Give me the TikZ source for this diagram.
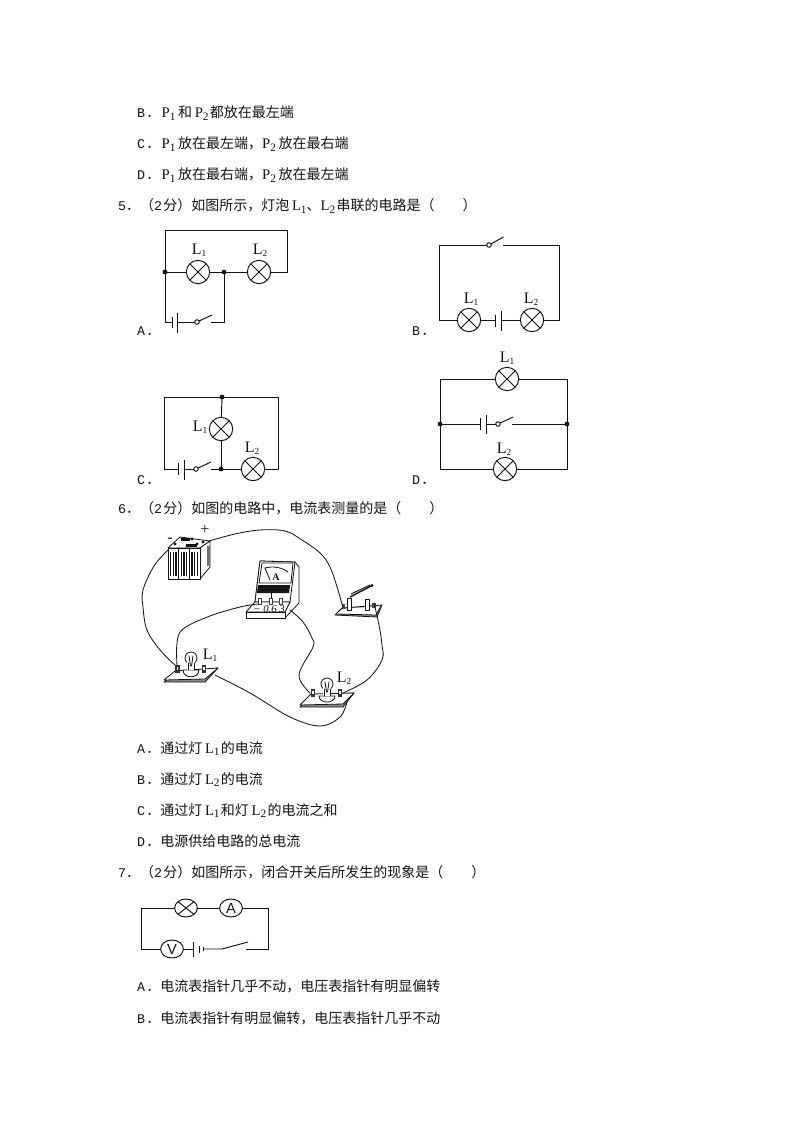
\documentclass[tikz,border=0pt]{standalone}
\usepackage{fontspec}
\setmainfont{Noto Sans CJK SC}
\newfontfamily\lat{Liberation Serif}
\newfontfamily\mon{Liberation Mono}
\newfontfamily\ssf{Liberation Sans}
\usetikzlibrary{shapes.geometric}
\newcommand{\Ms}[2]{{\lat\fontsize{11pt}{12pt}\selectfont #1\raisebox{-2pt}{\fontsize{8.5pt}{8pt}\selectfont #2}}}
\newcommand{\Ks}[2]{{\lat\fontsize{12pt}{12pt}\selectfont #1\raisebox{-1.8pt}{\fontsize{7pt}{7pt}\selectfont #2}}}
\newcommand{\Op}[1]{{\mon\fontsize{10pt}{12pt}\selectfont #1}}
\definecolor{ink}{gray}{0.08}
\tikzset{
  txt/.style={anchor=base west,inner sep=0,outer sep=0,text=ink,font=\fontsize{10.5pt}{12pt}\selectfont},
  wire/.style={draw=ink,line width=0.72pt,line join=miter},
  thin wire/.style={draw=ink,line width=0.62pt,line cap=round},
  lampx/.style={circle,draw=ink,line width=0.72pt,minimum size=17.5pt,inner sep=0,outer sep=0,
    path picture={\draw[ink,line width=0.72pt] (path picture bounding box.north west)--(path picture bounding box.south east)
      (path picture bounding box.north east)--(path picture bounding box.south west);}},
  lampo/.style={ellipse,draw=ink,line width=0.72pt,minimum width=17pt,minimum height=13.5pt,inner sep=0,outer sep=0,
    path picture={\draw[ink,line width=0.72pt] (path picture bounding box.north west)--(path picture bounding box.south east)
      (path picture bounding box.north east)--(path picture bounding box.south west);}},
  meter/.style={ellipse,draw=ink,line width=0.72pt,minimum width=17pt,minimum height=13.5pt,inner sep=0,outer sep=0,text=ink,font=\ssf\fontsize{11pt}{11pt}\selectfont},
  joint/.style={circle,fill=ink,minimum size=3.6pt,inner sep=0,outer sep=0},
  pivot/.style={circle,draw=ink,fill=white,line width=0.7pt,minimum size=3.4pt,inner sep=0,outer sep=0},
  lab/.style={inner sep=0,outer sep=0,text=ink},
  board/.style={draw=ink,line width=0.6pt,fill=white,line join=round},
  gboard/.style={draw=ink,line width=0.6pt,fill=black!45,line join=round},
}
\begin{document}
\begin{tikzpicture}[x=0.75pt,y=-0.75pt]
\useasboundingbox (0,0) rectangle (794,1123);
\fill[white] (0,0) rectangle (794,1123);

% ---------- text
\node[txt] (t1) at (137,118) {\Op{B}\hspace{1pt}．\hspace{1pt}\Ms{P}{1}\hspace{2pt}和\hspace{2pt}\Ms{P}{2}\hspace{1pt}都放在最左端};
\node[txt] (t2) at (137,149) {\Op{C}\hspace{1pt}．\hspace{1pt}\Ms{P}{1}\hspace{2pt}放在最左端，\Ms{P}{2}\hspace{2pt}放在最右端};
\node[txt] (t3) at (137,180) {\Op{D}\hspace{1pt}．\hspace{1pt}\Ms{P}{1}\hspace{2pt}放在最右端，\Ms{P}{2}\hspace{2pt}放在最左端};
\node[txt] (t4) at (118,211) {\Op{5}．（\Op{2}\hspace{1pt}分）如图所示，灯泡\hspace{2pt}\Ms{L}{1}、\Ms{L}{2}\hspace{1pt}串联的电路是（\hspace{21pt}）};
\node[txt] (t5) at (118,513) {\Op{6}．（\Op{2}\hspace{1pt}分）如图的电路中，电流表测量的是（\hspace{21pt}）};
\node[txt] (t6) at (137,753) {\Op{A}\hspace{1pt}．通过灯\hspace{2pt}\Ms{L}{1}\hspace{1pt}的电流};
\node[txt] (t7) at (137,784) {\Op{B}\hspace{1pt}．通过灯\hspace{2pt}\Ms{L}{2}\hspace{1pt}的电流};
\node[txt] (t8) at (137,815) {\Op{C}\hspace{1pt}．通过灯\hspace{2pt}\Ms{L}{1}\hspace{1pt}和灯\hspace{2pt}\Ms{L}{2}\hspace{1pt}的电流之和};
\node[txt] (t9) at (137,846) {\Op{D}\hspace{1pt}．电源供给电路的总电流};
\node[txt] (t10) at (118,877) {\Op{7}．（\Op{2}\hspace{1pt}分）如图所示，闭合开关后所发生的现象是（\hspace{21pt}）};
\node[txt] (t11) at (137,991) {\Op{A}\hspace{1pt}．电流表指针几乎不动，电压表指针有明显偏转};
\node[txt] (t12) at (137,1023) {\Op{B}\hspace{1pt}．电流表指针有明显偏转，电压表指针几乎不动};

\node[txt] (oa) at (137,335) {\Op{A}\hspace{1pt}．};
\node[txt] (ob) at (412,335) {\Op{B}\hspace{1pt}．};
\node[txt] (oc) at (137,484) {\Op{C}\hspace{1pt}．};
\node[txt] (od) at (412,484) {\Op{D}\hspace{1pt}．};

% ---------- circuit A
\node[lampx] (aL1) at (198,272) {};
\node[lampx] (aL2) at (259,272) {};
\node[pivot] (aS) at (197,322) {};
\coordinate (aJ1c) at (165,272); \coordinate (aJ2c) at (224,272);
\coordinate (aTL) at (165,230); \coordinate (aTR) at (287,230);
\coordinate (aBL) at (165,322); \coordinate (aBR) at (224,322);
\coordinate (aP1) at (172,322); \coordinate (aP2) at (177,322);
\coordinate (aSr) at (211,322); \coordinate (aLev) at (212,315);
\draw[wire] (aJ1c)--(aTL)--(aTR)--(aTR|-aL2)--(aL2);
\draw[wire] (aJ1c)--(aL1); \draw[wire] (aL1)--(aJ2c); \draw[wire] (aJ2c)--(aL2);
\draw[wire] (aJ1c)--(aBL)--(aP1);
\draw[wire] (aP2)--(aS);
\draw[wire] (aS)--(aLev);
\draw[wire] (aSr)--(aBR)--(aJ2c);
\draw[wire] (172,316.5)--(172,327.5);
\draw[wire] (177,313)--(177,333);
\node[joint] (aJ1) at (aJ1c) {};
\node[joint] (aJ2) at (aJ2c) {};
\node[lab] (aT1) at (199,250) {\Ks{L}{1}};
\node[lab] (aT2) at (260,250) {\Ks{L}{2}};

% ---------- circuit B
\node[lampx] (bL1) at (469,320) {};
\node[lampx] (bL2) at (532,320) {};
\node[pivot] (bS) at (489,245) {};
\coordinate (bTL) at (439,245); \coordinate (bTR) at (559,245);
\coordinate (bBL) at (439,320); \coordinate (bBR) at (559,320);
\coordinate (bSr) at (503,245); \coordinate (bLev) at (503.5,237);
\coordinate (bP1) at (495,320); \coordinate (bP2) at (501,320);
\draw[wire] (bS)--(bTL)--(bBL)--(bL1);
\draw[wire] (bS)--(bLev);
\draw[wire] (bSr)--(bTR)--(bBR)--(bL2);
\draw[wire] (bL1)--(bP1); \draw[wire] (bP2)--(bL2);
\draw[wire] (495,314.5)--(495,326.5);
\draw[wire] (501,311)--(501,331);
\node[lab] (bT1) at (471,299) {\Ks{L}{1}};
\node[lab] (bT2) at (531,299) {\Ks{L}{2}};

% ---------- circuit C
\node[lampx] (cL1) at (221,429) {};
\node[lampx] (cL2) at (253,469) {};
\node[pivot] (cS) at (196,469) {};
\coordinate (cJ1c) at (222,397); \coordinate (cJ2c) at (221,469);
\coordinate (cTL) at (164,397); \coordinate (cTR) at (278,397);
\coordinate (cBL) at (164,469); \coordinate (cBR) at (278,469);
\coordinate (cP1) at (178,469); \coordinate (cP2) at (184,469);
\coordinate (cSr) at (211,469); \coordinate (cLev) at (211,462);
\draw[wire] (cP1)--(cBL)--(cTL)--(cTR)--(cBR)--(cL2);
\draw[wire] (cJ1c)--(cL1); \draw[wire] (cL1)--(cJ2c);
\draw[wire] (cP2)--(cS); \draw[wire] (cS)--(cLev);
\draw[wire] (cSr)--(cJ2c); \draw[wire] (cJ2c)--(cL2);
\draw[wire] (178,463)--(178,475);
\draw[wire] (184,459.5)--(184,479.5);
\node[joint] (cJ1) at (cJ1c) {};
\node[joint] (cJ2) at (cJ2c) {};
\node[lab] (cT1) at (200,427) {\Ks{L}{1}};
\node[lab] (cT2) at (252,448) {\Ks{L}{2}};

% ---------- circuit D
\node[lampx] (dL1) at (507,379) {};
\node[lampx] (dL2) at (505,469) {};
\node[pivot] (dS) at (498,424) {};
\coordinate (dJ1c) at (440,424); \coordinate (dJ2c) at (567,424);
\coordinate (dTL) at (440,379); \coordinate (dTR) at (567,379);
\coordinate (dBL) at (440,469); \coordinate (dBR) at (567,469);
\coordinate (dP1) at (480,424); \coordinate (dP2) at (486,424);
\coordinate (dSr) at (512,424); \coordinate (dLev) at (513,417);
\draw[wire] (dL1)--(dTL)--(dBL)--(dL2);
\draw[wire] (dL1)--(dTR)--(dBR)--(dL2);
\draw[wire] (dJ1c)--(dP1); \draw[wire] (dP2)--(dS);
\draw[wire] (dS)--(dLev); \draw[wire] (dSr)--(dJ2c);
\draw[wire] (480,418)--(480,430);
\draw[wire] (486,415)--(486,434);
\node[joint] (dJ1) at (dJ1c) {};
\node[joint] (dJ2) at (dJ2c) {};
\node[lab] (dT1) at (507,358) {\Ks{L}{1}};
\node[lab] (dT2) at (504,449) {\Ks{L}{2}};

% ---------- battery (Q6)
\draw[board] (168,548)--(180,537)--(210,541)--(200,548)--cycle;
\fill[ink] (181,538) rectangle (190,541);
\fill[ink] (186,544) rectangle (197,547);
\foreach \p in {(175,544),(182,539),(192,539),(203,542),(178,549),(187,546),(197,544)}
  \fill[ink] \p circle (1.6);
\draw[board] (200,548)--(210,541)--(210,567)--(200,579)--cycle;
\fill[black!55] (207,546) rectangle (210,566);
\draw[board] (168,548) rectangle (200,579);
\foreach \c in {168,178.7,189.3}{
  \draw[ink,line width=0.7pt] (\c,548) -- (\c,579);
  \foreach \d in {2.6,5.3,8}{
    \draw[ink,line width=1.1pt] (\c+\d,552) -- (\c+\d,576);
  }
}
\node[lab,font=\lat\fontsize{12pt}{12pt}\selectfont] (bPlus) at (205,530) {+};
\node[lab,font=\lat\fontsize{12pt}{12pt}\selectfont] (bMinus) at (170,540) {-};

% ---------- ammeter
\draw[board] (255,602)--(260,561)--(295,562)--(299,567)--(299,603)--(285,618)--(285,612)--(290,602)--cycle;
\draw[board] (260,561)--(295,562)--(290,602)--(255,602)--cycle;
\draw[board] (262,563)--(293,563)--(291,583)--(259,583)--cycle;
\fill[ink] (258,585)--(290,585)--(289,593)--(257,593)--cycle;
\draw[thin wire] (265,568) .. controls (273,566) and (281,567) .. (288,572);
\draw[thin wire] (265,568)--(270,580);
\node[lab,font=\lat\bfseries\fontsize{7.5pt}{7pt}\selectfont] (amA) at (276,577) {A};
\draw[board] (246,612)--(255,602)--(290,602)--(285,612)--cycle;
\draw[board] (246,612) rectangle (285,618);
\foreach \x in {260,271,281}{
  \fill[black!75] (\x-2,598) rectangle (\x+2,605);
  \fill[white] (\x-1,599) rectangle (\x+1,604);
}
\node[lab,font=\lat\itshape\fontsize{8pt}{7pt}\selectfont] (amS) at (269,609) {− 0.6 3};
\draw[thin wire] (271,593)--(271,598);

% ---------- knife switch
\draw[gboard] (335,615)--(342,608)--(382,605)--(377,617)--cycle;
\fill[white] (336.5,614)--(343,609)--(381,606)--(376,615)--cycle;
\draw[ink,line width=0.6pt] (336.5,614)--(376,615)--(381,606);
\draw[board] (347,598) rectangle (351,610);
\draw[board] (365,599) rectangle (369,610);
\fill[black!70] (342,604) rectangle (345,609);
\fill[black!70] (372,603) rectangle (376,608);
\draw[ink,line width=1.1pt] (350,597)--(371,586);
\draw[ink,line width=1.8pt] (371,586)--(373,585);
\draw[ink,line width=0.7pt] (351,594)--(370,585);

% ---------- bulb on board L1
\draw[gboard] (164,682)--(175,673)--(218,668)--(205,682)--cycle;
\draw[board] (164,680)--(175,671)--(218,668)--(205,679)--cycle;
\draw[board] (183,670) .. controls (183,679) and (199,679) .. (199,670) -- cycle;
\draw[board] (191,658) circle (6);
\fill[white] (187,662) rectangle (195,670);
\draw[thin wire] (188,663)--(188,670) (194,663)--(194,670);
\draw[thin wire] (189,656)--(190.5,666) (193,656)--(191.5,666);
\foreach \x/\y in {177.5/670,204/670}{
  \fill[black!80] (\x-2.2,\y-5) rectangle (\x+2.2,\y+3);
  \fill[white] (\x-0.8,\y-3) rectangle (\x+0.8,\y);
}
% ---------- bulb on board L2
\draw[gboard] (300,707)--(311,695)--(354,693)--(343,707)--cycle;
\draw[board] (300,705)--(311,694)--(354,693)--(343,704)--cycle;
\draw[board] (319,696) .. controls (319,704) and (335,704) .. (335,696) -- cycle;
\draw[board] (327,684) circle (6);
\fill[white] (323,688) rectangle (331,696);
\draw[thin wire] (324,689)--(324,696) (330,689)--(330,696);
\draw[thin wire] (325,682)--(326.5,692) (329,682)--(327.5,692);
\foreach \x/\y in {313/694,340/694}{
  \fill[black!80] (\x-2.2,\y-5) rectangle (\x+2.2,\y+3);
  \fill[white] (\x-0.8,\y-3) rectangle (\x+0.8,\y);
}
\node[lab] (eL1) at (210,655) {\Ks{L}{1}};
\node[lab] (eL2) at (344,678) {\Ks{L}{2}};

% ---------- wires of the scene
\coordinate (wBp) at (209,541);
\coordinate (wBm) at (168,550);
\coordinate (wSl) at (343,608);
\coordinate (wSr) at (374,603);
\coordinate (wAl) at (258,604);
\coordinate (wAr) at (290,610);
\coordinate (wL1a) at (175,665);
\coordinate (wL1b) at (177,666);
\coordinate (wL1c) at (215,675);
\coordinate (wL2a) at (310,693);
\coordinate (wL2b) at (343,693);
\coordinate (wL2c) at (347,702);
\draw[thin wire] plot[smooth,tension=0.6] coordinates {(wBp) (235,534) (260,530) (285,531) (302,540) (320,553) (330,567) (338,590) (wSl)};
\draw[thin wire] plot[smooth,tension=0.6] coordinates {(wBm) (154,566) (143,590) (143,607) (147,630) (160,650) (wL1a)};
\draw[thin wire] plot[smooth,tension=0.6] coordinates {(wAl) (240,607) (210,616) (183,629) (177,643) (wL1b)};
\draw[thin wire] plot[smooth,tension=0.6] coordinates {(wAr) (303,622) (312,638) (313,647) (299,675) (wL2a)};
\draw[thin wire] plot[smooth,tension=0.6] coordinates {(wSr) (379,625) (382,645) (382,660) (367,680) (wL2b)};
\draw[thin wire] plot[smooth,tension=0.6] coordinates {(wL1c) (250,693) (290,717) (320,726) (340,717) (wL2c)};

% ---------- circuit Q7
\node[lampo] (qL) at (186,908) {};
\node[meter] (qA) at (231,908) {A};
\node[meter] (qV) at (172,949) {V};
\coordinate (qTL) at (141,908); \coordinate (qTR) at (268,908);
\coordinate (qBL) at (141,949); \coordinate (qBR) at (268,949);
\coordinate (qP1) at (193,949); \coordinate (qP2) at (199,949);
\coordinate (qS1) at (203,949); \coordinate (qS2) at (222,949);
\coordinate (qLev) at (248,942); \coordinate (qSr) at (246,949);
\draw[wire] (qL)--(qTL)--(qBL)--(qV);
\draw[wire] (qL)--(qA);
\draw[wire] (qA)--(qTR)--(qBR)--(qSr);
\draw[wire] (qV)--(qP1);
\draw[wire] (qS1)--(qS2)--(qLev);
\draw[wire] (193,942)--(193,957);
\draw[wire] (199,946)--(199,953);
\draw[wire] (203,947)--(203,951);
\end{tikzpicture}
\end{document}
